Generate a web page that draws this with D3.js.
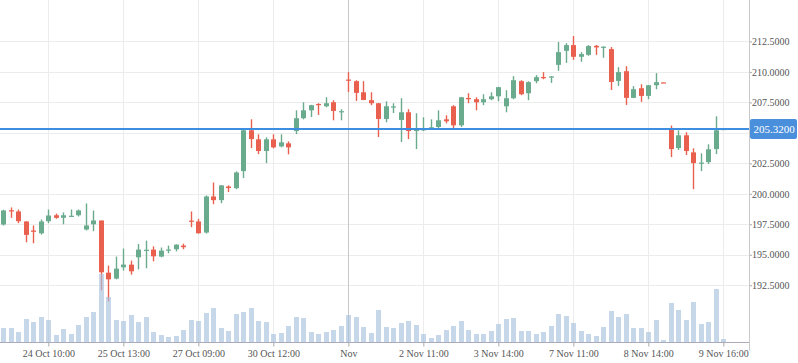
<!DOCTYPE html>
<html>
<head>
<meta charset="utf-8">
<script src="https://cdn.jsdelivr.net/npm/d3@7"></script>
<style>
  body { margin: 0; background: #fff; }
  svg { display: block; font-family: "Liberation Serif", "Times New Roman", serif; }
</style>
</head>
<body>
<div id="chart"></div>
<script>

var open = [197.48, 198.65, 198.55, 197.73, 196.99, 196.76, 197.75, 198.24, 198.03, 198.17,
  198.24, 197.07, 197.50, 197.81, 193.53, 193.04, 193.97, 194.19, 194.79, 195.38,
  195.42, 194.85, 195.40, 195.45, 195.75, 197.80, 197.73, 196.82, 199.78, 199.48,
  200.60, 200.46, 201.86, 205.21, 204.47, 203.51, 204.47, 203.89, 204.14, 205.15,
  206.20, 206.85, 207.37, 207.18, 207.51, 206.75, 209.37, 209.24, 208.33, 207.68,
  207.43, 206.14, 207.13, 206.06, 206.69, 205.15, 205.28, 205.32, 205.48, 206.11,
  207.18, 205.62, 207.86, 207.76, 207.51, 207.76, 208.00, 207.18, 207.84, 209.24,
  208.25, 209.24, 209.58, 209.60, 210.58, 211.73, 212.20, 211.24, 211.40, 212.14,
  212.04, 211.87, 209.26, 210.06, 207.87, 208.66, 208.03, 208.91, 209.14, 205.32,
  203.75, 204.80, 203.40, 202.53, 202.60, 203.67, 205.31];

var high = [198.69, 198.88, 198.71, 197.75, 197.40, 197.89, 198.71, 198.38, 198.47, 198.71,
  198.71, 199.21, 198.63, 197.81, 194.11, 194.85, 195.51, 194.52, 195.89, 196.16,
  195.69, 195.59, 195.75, 195.85, 195.91, 198.55, 197.95, 199.86, 200.93, 200.71,
  200.69, 201.84, 205.32, 206.11, 204.88, 204.63, 204.88, 204.88, 204.30, 206.85,
  207.51, 207.30, 207.43, 207.92, 207.68, 206.94, 209.98, 209.32, 209.24, 208.33,
  207.45, 207.59, 207.43, 207.84, 206.94, 206.61, 206.28, 206.11, 206.85, 206.44,
  207.27, 207.95, 208.25, 207.92, 208.17, 208.33, 208.77, 208.50, 209.65, 209.32,
  209.24, 209.73, 209.98, 209.65, 212.45, 212.36, 212.94, 211.62, 212.20, 212.22,
  212.10, 212.04, 210.39, 210.47, 208.83, 208.99, 208.93, 209.90, 209.15, 205.60,
  205.21, 205.05, 203.73, 203.32, 204.06, 206.36, 205.33];

var low = [197.40, 198.03, 197.59, 196.02, 195.94, 196.65, 197.59, 197.95, 197.50, 198.14,
  198.14, 196.99, 196.93, 192.08, 191.17, 192.98, 193.70, 193.37, 193.80, 193.89,
  194.46, 194.79, 195.12, 195.28, 195.45, 197.26, 196.74, 196.74, 199.15, 199.23,
  200.14, 200.38, 201.29, 203.75, 203.26, 202.52, 203.73, 203.81, 203.24, 204.90,
  206.11, 206.30, 206.47, 207.10, 206.03, 206.03, 208.36, 207.62, 207.68, 207.27,
  204.66, 205.87, 206.63, 204.25, 204.49, 203.67, 205.15, 205.30, 205.40, 205.78,
  205.37, 205.48, 207.43, 206.85, 207.27, 207.68, 207.59, 206.69, 207.76, 208.09,
  207.68, 209.07, 209.40, 209.10, 210.09, 210.74, 210.99, 210.83, 211.32, 211.40,
  211.16, 208.52, 208.85, 207.29, 207.85, 207.54, 207.76, 208.58, 209.11, 203.01,
  203.59, 203.18, 200.38, 201.86, 202.44, 203.26, 205.30];

var close = [198.63, 198.62, 197.75, 196.63, 196.88, 197.73, 198.22, 198.03, 198.24, 198.20,
  198.63, 197.40, 197.81, 193.56, 192.98, 193.86, 194.19, 193.64, 195.42, 195.41,
  194.87, 195.34, 195.43, 195.83, 195.62, 197.76, 196.76, 199.78, 199.48, 200.69,
  200.47, 201.75, 205.21, 204.49, 203.51, 204.47, 203.81, 204.22, 203.81, 206.20,
  206.85, 207.27, 207.32, 207.43, 206.80, 206.78, 209.33, 208.28, 207.70, 207.43,
  206.14, 207.18, 207.17, 206.69, 205.15, 205.32, 205.30, 205.46, 206.03, 205.95,
  205.62, 207.92, 207.82, 207.51, 207.76, 208.00, 208.75, 207.84, 209.32, 208.17,
  209.16, 209.57, 209.55, 209.63, 211.62, 212.20, 211.24, 211.46, 212.12, 212.01,
  212.07, 209.18, 209.98, 207.87, 208.58, 208.03, 208.91, 209.16, 209.12, 203.67,
  204.80, 203.51, 202.52, 202.56, 203.65, 205.21, 205.32];

// volume, thousands
var volume = [14.5, 14.5, 10.5, 23.5, 20.5, 25.5, 22.5, 7.5, 13.5, 8.5,
  17.5, 25.5, 30.5, 68.5, 45.5, 22.5, 21.5, 27.5, 20.5, 25.5,
  10.5, 7.5, 5.5, 6.5, 12.5, 22.5, 21.5, 29.5, 34.5, 14.5,
  11.5, 28.5, 30.5, 34.5, 21.5, 20.5, 8.5, 9.5, 16.5, 25.5,
  24.5, 10.5, 8.5, 10.5, 12.5, 16.5, 27.5, 25.5, 15.5, 9.5,
  32.5, 15.5, 14.5, 19.5, 21.5, 17.5, 8.5, 4.5, 7.5, 12.5,
  16.5, 21.5, 12.5, 8.5, 8.5, 11.5, 18.5, 23.5, 24.5, 11.5,
  11.5, 8.5, 10.5, 16.5, 28.5, 26.5, 19.5, 11.5, 8.5, 6.5,
  15.5, 31.5, 25.5, 28.5, 14.5, 14.5, 10.5, 22.5, 2.5, 39.5,
  32.5, 22.5, 40.5, 18.5, 20.5, 53.5, 3.5];

var tickIndex = [6, 16, 26, 36, 46, 56, 66, 76, 86, 96];
var tickLabels = ["24 Oct 10:00", "25 Oct 13:00", "27 Oct 09:00", "30 Oct 12:00", "Nov",
  "2 Nov 11:00", "3 Nov 14:00", "7 Nov 11:00", "8 Nov 14:00", "9 Nov 16:00"];
var priceTicks = [192.5, 195, 197.5, 200, 202.5, 205, 207.5, 210, 212.5];
var lastPrice = 205.32;

var width = 798, height = 363;
var plotRight = 749, plotBottom = 342.5;
var upColor = "#6aab8e", downColor = "#e9604f";

var svg = d3.select("#chart").append("svg")
  .attr("width", width)
  .attr("height", height);

var idx = d3.range(open.length);

var x = d3.scalePoint()
  .domain(idx)
  .range([-0.42, 727.08])
  .padding(0.5);

var y = d3.scaleLinear()
  .domain([187.8, 215.9])
  .range([plotBottom, 0]);

var yVol = d3.scaleLinear()
  .domain([0, 70])
  .range([plotBottom, plotBottom - 70]);

var bodyW = 5;

// grid
var grid = svg.append("g");
grid.selectAll("line.h")
  .data(priceTicks)
  .enter().append("line")
  .attr("x1", 0).attr("x2", plotRight)
  .attr("y1", function (d) { return Math.round(y(d)) + 0.5; })
  .attr("y2", function (d) { return Math.round(y(d)) + 0.5; })
  .style("stroke", "#ececec");

grid.selectAll("line.v")
  .data(tickIndex)
  .enter().append("line")
  .attr("x1", function (d) { return Math.round(x(d)) + 0.5; })
  .attr("x2", function (d) { return Math.round(x(d)) + 0.5; })
  .attr("y1", 0).attr("y2", plotBottom)
  .style("stroke", function (d, i) { return tickLabels[i] == "Nov" ? "#c8c8c8" : "#ececec"; });

// candles
var candles = svg.append("g").selectAll("g")
  .data(idx)
  .enter().append("g");

candles.append("line")
  .attr("x1", function (i) { return Math.round(x(i)) + 0.5; })
  .attr("x2", function (i) { return Math.round(x(i)) + 0.5; })
  .attr("y1", function (i) { return y(high[i]); })
  .attr("y2", function (i) { return y(low[i]); })
  .style("stroke", function (i) { return close[i] >= open[i] ? upColor : downColor; })
  .style("stroke-width", 1.4);

candles.append("rect")
  .attr("x", function (i) { return Math.round(x(i)) + 0.5 - bodyW / 2; })
  .attr("width", bodyW)
  .attr("y", function (i) { return y(Math.max(open[i], close[i])); })
  .attr("height", function (i) {
    return Math.max(1.2, Math.abs(y(open[i]) - y(close[i])));
  })
  .style("fill", function (i) { return close[i] >= open[i] ? upColor : downColor; });

// volume
svg.append("g").selectAll("rect")
  .data(idx)
  .enter().append("rect")
  .attr("x", function (i) { return Math.round(x(i)) + 0.5 - bodyW / 2; })
  .attr("width", bodyW)
  .attr("y", function (i) { return yVol(volume[i]); })
  .attr("height", function (i) { return plotBottom - yVol(volume[i]); })
  .style("fill", "#a9c2de")
  .style("opacity", 0.65);

// last price line
var yLast = Math.round(y(lastPrice));
svg.append("line")
  .attr("x1", 0).attr("x2", plotRight)
  .attr("y1", yLast).attr("y2", yLast)
  .attr("stroke", "#3d8de0")
  .attr("stroke-width", 2);

// bottom axis
var xAxis = d3.axisBottom(x)
  .tickValues(tickIndex)
  .tickSize(4)
  .tickFormat(function (d, i) { return tickLabels[i]; });

var gx = svg.append("g")
  .attr("transform", "translate(0," + plotBottom + ")")
  .call(xAxis);
gx.select(".domain").remove();
gx.selectAll(".tick line").style("stroke", "#aaa");
gx.selectAll(".tick text")
  .attr("y", 7)
  .style("font-family", "Liberation Serif, serif")
  .style("font-size", "10px")
  .style("fill", "#555");
gx.append("line")
  .attr("x1", 0).attr("x2", plotRight)
  .attr("y1", 0).attr("y2", 0)
  .style("stroke", "#aab");

// right axis
var yAxis = d3.axisRight(y)
  .tickValues(priceTicks.filter(function (d) { return Math.abs(y(d) - y(lastPrice)) > 10; }))
  .tickSize(3)
  .tickFormat(d3.format(".4f"));

var gy = svg.append("g")
  .attr("transform", "translate(" + plotRight + ",0)")
  .call(yAxis);
gy.select(".domain").remove();
gy.selectAll(".tick line").style("stroke", "#aaa");
gy.selectAll(".tick text")
  .attr("x", 3)
  .style("font-family", "Liberation Serif, serif")
  .style("font-size", "10px")
  .style("fill", "#555");
svg.append("line")
  .attr("x1", plotRight + 0.5).attr("x2", plotRight + 0.5)
  .attr("y1", 0).attr("y2", plotBottom + 8)
  .style("stroke", "#c8c8c8");

// last price label
svg.append("rect")
  .attr("x", plotRight + 1)
  .attr("y", yLast - 10)
  .attr("width", width - plotRight - 2)
  .attr("height", 20)
  .attr("rx", 2)
  .style("fill", "#4a8fdb");
svg.append("text")
  .attr("x", plotRight + 25)
  .attr("y", yLast)
  .attr("dy", "0.35em")
  .style("text-anchor", "middle")
  .style("font-size", "11px")
  .style("fill", "#fff")
  .text(d3.format(".4f")(lastPrice));

</script>
</body>
</html>
